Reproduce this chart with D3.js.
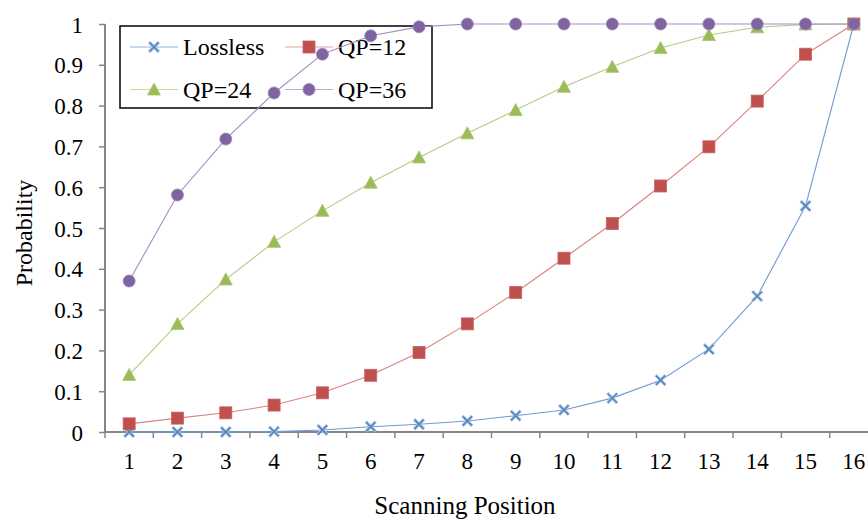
<!DOCTYPE html>
<html>
<head>
<meta charset="utf-8">
<script src="https://cdn.jsdelivr.net/npm/d3@7"></script>
<style>
  html, body { margin: 0; padding: 0; background: #fff; overflow: hidden; }
  svg { display: block; }
  svg text { font-family: "Liberation Serif", "Times New Roman", serif; fill: #000; }
</style>
</head>
<body>
<svg id="chart"></svg>
<script>
// data
const positions = d3.range(1, 17);
const lossless = [0, 0, 0, 0.001, 0.005, 0.013, 0.019, 0.027, 0.040, 0.054, 0.083, 0.127, 0.203, 0.333, 0.554, 1];
const qp12 = [0.020, 0.034, 0.047, 0.066, 0.096, 0.139, 0.195, 0.265, 0.342, 0.426, 0.511, 0.603, 0.699, 0.811, 0.926, 1];
const qp24 = [0.140, 0.265, 0.374, 0.466, 0.542, 0.611, 0.673, 0.732, 0.789, 0.846, 0.895, 0.941, 0.973, 0.992, 0.999, 1];
const qp36 = [0.370, 0.581, 0.718, 0.831, 0.926, 0.971, 0.993, 1, 1, 1, 1, 1, 1, 1, 1, 1];
const yTicks = [0, 0.1, 0.2, 0.3, 0.4, 0.5, 0.6, 0.7, 0.8, 0.9, 1];

const series = [
  { name: 'Lossless', values: lossless, line: '#6f9bd3', marker: 'x' },
  { name: 'QP=12', values: qp12, line: '#d98280', marker: 'square' },
  { name: 'QP=24', values: qp24, line: '#b3cc85', marker: 'triangle' },
  { name: 'QP=36', values: qp36, line: '#a18fc3', marker: 'circle' }
];

const serif = '"Liberation Serif", "Times New Roman", serif';
const width = 868;
const height = 522;
// the plot runs a little past the right edge, as in the original
const margin = { top: 24, right: -10, bottom: 90, left: 105 };
const innerWidth = width - margin.left - margin.right;
const innerHeight = height - margin.top - margin.bottom;

const svg = d3.select('#chart')
  .attr('width', width)
  .attr('height', height);

// legend sits under the data, the points run over it
const legend = svg.append('g').attr('transform', 'translate(120,26)');
legend.append('rect')
  .attr('width', 312)
  .attr('height', 82)
  .attr('fill', '#fff')
  .attr('stroke', '#000')
  .attr('stroke-width', 1.5);

const g = svg.append('g')
  .attr('transform', `translate(${margin.left},${margin.top})`);

const x = d3.scaleBand()
  .domain(positions)
  .range([0, innerWidth]);

const y = d3.scaleLinear()
  .domain([0, 1])
  .range([innerHeight, 0]);

// axes
const yAxis = g.append('g')
  .call(d3.axisLeft(y).tickValues(yTicks).tickSize(6).tickPadding(16)
    .tickFormat(d => d === 0 || d === 1 ? d : d3.format('.1f')(d)));

const xAxis = g.append('g')
  .attr('transform', `translate(0,${innerHeight})`)
  .call(d3.axisBottom(x).tickSize(0).tickPadding(21));

// x tick marks sit on band edges
xAxis.selectAll('.edge')
  .data(positions)
  .enter()
  .append('line')
  .attr('x1', d => x(d))
  .attr('x2', d => x(d))
  .attr('y1', 0)
  .attr('y2', 6);

[xAxis, yAxis].forEach(a => {
  a.select('.domain').attr('stroke', '#868686').attr('stroke-width', 2);
  a.selectAll('line').attr('stroke', '#868686').attr('stroke-width', 1.5);
  a.selectAll('text').attr('font-size', '23px').attr('font-family', serif);
});
yAxis.selectAll('text').attr('dy', '0.35em');
xAxis.select('.domain').attr('d', `M0,0H${width - margin.left}`);
yAxis.select('.domain').attr('d', `M0,0V${innerHeight}`);

// lines
const line = d3.line()
  .x((d, i) => x(positions[i]) + x.bandwidth() / 2)
  .y(d => y(d));

series.forEach(s => {
  g.append('path')
    .datum(s.values)
    .attr('fill', 'none')
    .attr('stroke', s.line)
    .attr('stroke-width', 1.1)
    .attr('d', line);
});

// markers
const drawMarker = (sel, type) => {
  if (type === 'x') {
    sel.append('path').attr('d', 'M-5,-5L5,5M-5,5L5,-5')
      .attr('stroke', '#a9c2e4').attr('stroke-width', 3.2).attr('fill', 'none');
    sel.append('path').attr('d', 'M-4.5,-4.5L4.5,4.5M-4.5,4.5L4.5,-4.5')
      .attr('stroke', '#4a7ebb').attr('stroke-width', 1.3).attr('fill', 'none');
  } else if (type === 'square') {
    sel.append('rect').attr('x', -6).attr('y', -6).attr('width', 12).attr('height', 12)
      .attr('fill', '#c0504d').attr('stroke', '#c9615e').attr('stroke-width', 0.8);
  } else if (type === 'triangle') {
    sel.append('path').attr('d', 'M0,-6.5L6.5,5.5L-6.5,5.5Z')
      .attr('fill', '#9bbb59').attr('stroke', '#a8c46c').attr('stroke-width', 0.8);
  } else {
    sel.append('circle').attr('r', 6)
      .attr('fill', '#8064a2').attr('stroke', '#9a84b8').attr('stroke-width', 0.8);
  }
};

series.forEach(s => {
  g.append('g')
    .selectAll('g')
    .data(s.values)
    .enter()
    .append('g')
    .attr('transform', (d, i) => `translate(${x(positions[i]) + x.bandwidth() / 2},${y(d)})`)
    .each(function () { drawMarker(d3.select(this), s.marker); });
});

// axis titles
svg.append('text')
  .attr('x', 465)
  .attr('y', 514)
  .attr('text-anchor', 'middle')
  .attr('font-family', serif)
  .attr('font-size', '25px')
  .text('Scanning Position');

svg.append('text')
  .attr('transform', 'translate(32,233) rotate(-90)')
  .attr('text-anchor', 'middle')
  .attr('font-family', serif)
  .attr('font-size', '24px')
  .text('Probability');

// legend entries
series.forEach((s, i) => {
  const col = i % 2;
  const row = Math.floor(i / 2);
  const item = legend.append('g')
    .attr('transform', `translate(${10 + col * 155},${21 + row * 42.5})`);
  item.append('line')
    .attr('x1', 0).attr('x2', 48)
    .attr('stroke', s.line).attr('stroke-width', 1.2).attr('opacity', 0.75);
  drawMarker(item.append('g').attr('transform', 'translate(24,0)'), s.marker);
  item.append('text')
    .attr('x', 53)
    .attr('dy', '0.35em')
    .attr('font-family', serif)
    .attr('font-size', '24px')
    .text(s.name);
});
</script>
</body>
</html>
